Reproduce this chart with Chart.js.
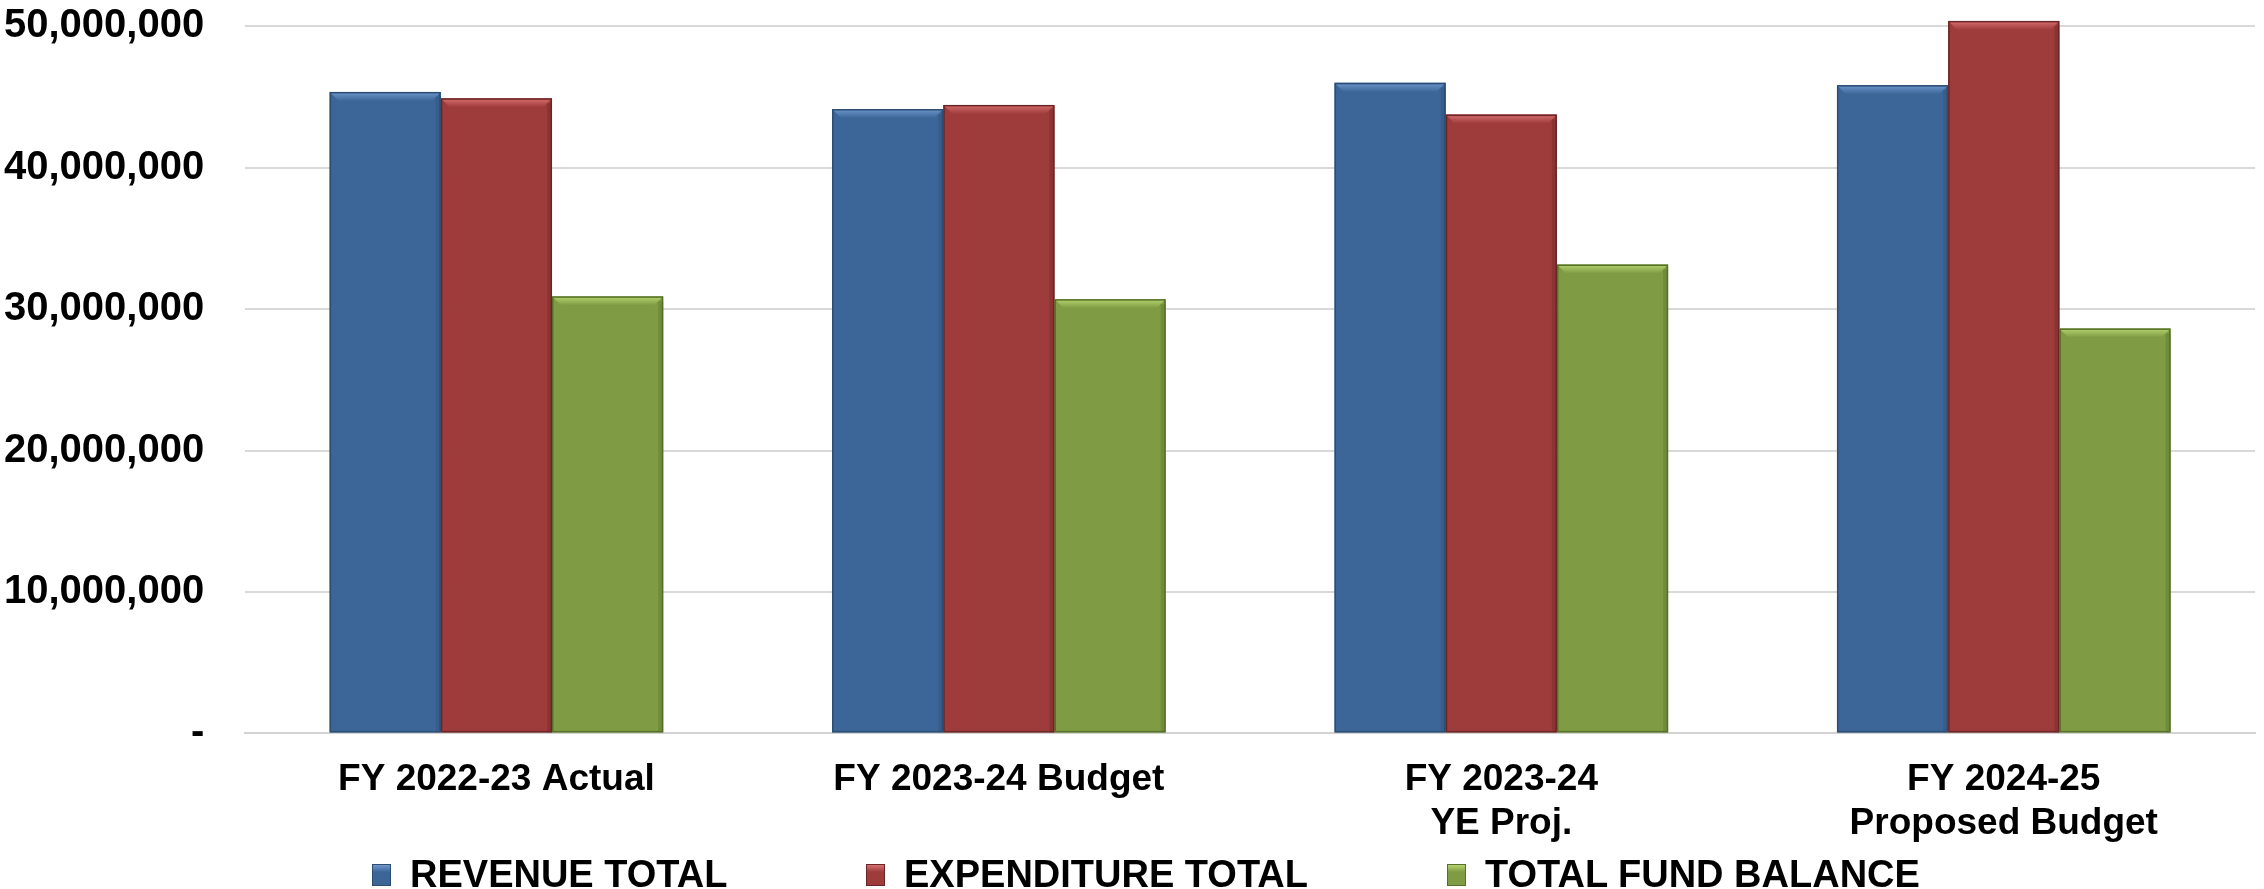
<!DOCTYPE html>
<html>
<head>
<meta charset="utf-8">
<script src="https://cdn.jsdelivr.net/npm/chart.js@4.4.1/dist/chart.umd.min.js"></script>
<style>
  html, body { margin: 0; padding: 0; background: #ffffff; }
  #wrap { position: relative; width: 2264px; height: 889px; overflow: hidden; }
  #chart { position: absolute; left: 0; top: 0; }
  .item { position: absolute; top: 855px; display: flex; align-items: flex-start;
          font-family: 'Liberation Sans', Arial, sans-serif; font-weight: bold; font-size: 38px; line-height: 38px; color: #000; white-space: nowrap; }
  .sw { width: 19px; height: 22px; margin-top: 9px; margin-right: 19px; box-sizing: border-box; }
</style>
</head>
<body>
<div id="wrap">
  <canvas id="chart" width="2264" height="889"></canvas>
  <div id="legend"></div>
</div>
<script>
const categories = [
  'FY 2022-23 Actual',
  'FY 2023-24 Budget',
  ['FY 2023-24', 'YE Proj.'],
  ['FY 2024-25', 'Proposed Budget']
];
const seriesNames = ['REVENUE TOTAL', 'EXPENDITURE TOTAL', 'TOTAL FUND BALANCE'];
const revenueTotal = [45350000, 44140000, 45990000, 45830000];
const expenditureTotal = [44900000, 44430000, 43750000, 50370000];
const totalFundBalance = [30900000, 30700000, 33150000, 28630000];
const yTickValues = [0, 10000000, 20000000, 30000000, 40000000, 50000000];

const fills = ['#3D6698', '#9E3B3B', '#7F9C44'];
const lights = ['#6E98CE', '#D86F6F', '#B6D36F'];
const darks = ['#2C4C72', '#6A2626', '#56702C'];
const legendLeft = [372, 866, 1447];

const FONT = "'Liberation Sans', Arial, sans-serif";

const bevel = {
  id: 'bevel',
  afterDatasetsDraw(chart) {
    const ctx = chart.ctx;
    chart.data.datasets.forEach((ds, i) => {
      const meta = chart.getDatasetMeta(i);
      meta.data.forEach(bar => {
        const p = bar.getProps(['x', 'y', 'base', 'width'], true);
        const l = p.x - p.width / 2, r = p.x + p.width / 2, t = p.y, b = p.base;
        const d = 9;
        ctx.save();
        ctx.beginPath();
        ctx.moveTo(l, t); ctx.lineTo(r, t); ctx.lineTo(r - d, t + d); ctx.lineTo(l + d, t + d); ctx.closePath();
        const g = ctx.createLinearGradient(0, t, 0, t + d);
        g.addColorStop(0, lights[i]); g.addColorStop(1, fills[i]);
        ctx.fillStyle = g; ctx.fill();
        ctx.globalAlpha = 0.35;
        ctx.fillStyle = darks[i];
        ctx.fillRect(r - 5, t + 5, 5, b - t - 5);
        ctx.globalAlpha = 1;
        ctx.strokeStyle = darks[i];
        ctx.lineWidth = 1.5;
        ctx.strokeRect(l + 0.75, t + 0.75, p.width - 1.5, b - t - 1.5);
        ctx.restore();
      });
    });
  }
};

const datasets = [revenueTotal, expenditureTotal, totalFundBalance].map((vals, i) => ({
  label: seriesNames[i],
  data: vals,
  backgroundColor: fills[i],
  borderWidth: 0,
  categoryPercentage: 0.664,
  barPercentage: 1.0
}));

new Chart(document.getElementById('chart'), {
  type: 'bar',
  data: { labels: categories, datasets },
  options: {
    responsive: false,
    animation: false,
    layout: { autoPadding: false, padding: { left: 4, right: 9, top: 12, bottom: 44 } },
    plugins: { legend: { display: false }, tooltip: { enabled: false } },
    scales: {
      x: {
        grid: { display: true, drawOnChartArea: false, color: 'rgba(0,0,0,0)', drawTicks: true, tickLength: 25, tickColor: 'rgba(0,0,0,0)' },
        border: { display: true, color: '#d3d3d3', width: 2 },
        ticks: { color: '#000', padding: 0, maxRotation: 0, autoSkip: false,
                 font: { family: FONT, weight: 'bold', size: 37, lineHeight: 1.17 } }
      },
      y: {
        min: 0, max: 51000000,
        afterBuildTicks(scale) {
          scale.ticks = yTickValues.map(v => ({ value: v }));
        },
        grid: { color: '#d9d9d9', lineWidth: 2, drawTicks: true, tickLength: 41, tickColor: 'rgba(0,0,0,0)' },
        border: { display: false },
        ticks: { color: '#000', padding: 0,
                 font: { family: FONT, weight: 'bold', size: 40, lineHeight: 0.5 },
                 callback: v => v === 0 ? '-' : Number(v).toLocaleString('en-US') }
      }
    }
  },
  plugins: [bevel]
});

const legend = document.getElementById('legend');
seriesNames.forEach((name, i) => {
  const item = document.createElement('div');
  item.className = 'item';
  item.style.left = legendLeft[i] + 'px';
  const sw = document.createElement('span');
  sw.className = 'sw';
  sw.style.background = `linear-gradient(180deg, ${lights[i]} 0%, ${fills[i]} 35%, ${fills[i]} 100%)`;
  sw.style.border = `1px solid ${darks[i]}`;
  const tx = document.createElement('span');
  tx.textContent = name;
  item.appendChild(sw); item.appendChild(tx);
  legend.appendChild(item);
});
</script>
</body>
</html>
